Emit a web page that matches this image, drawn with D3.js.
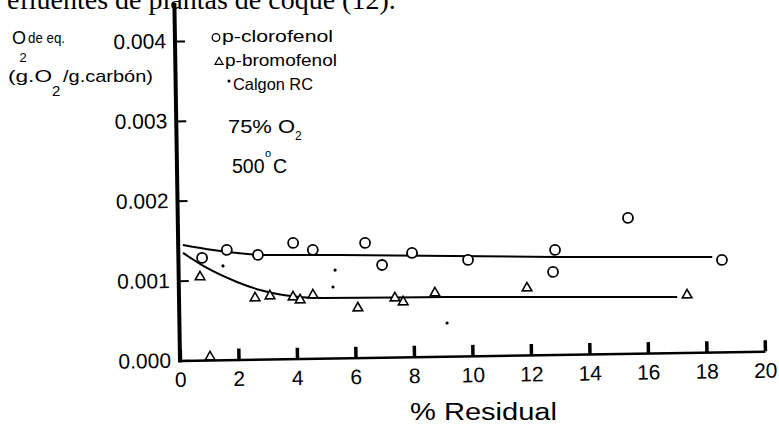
<!DOCTYPE html>
<html>
<head>
<meta charset="utf-8">
<script src="https://cdn.jsdelivr.net/npm/d3@7"></script>
<style>
  html, body { margin: 0; padding: 0; background: #fff; }
  svg { display: block; }
  text { font-family: "Liberation Sans", Arial, sans-serif; fill: #000; }
</style>
</head>
<body>
<svg id="chart" width="779" height="427"></svg>
<script>
// ---------- data ----------
const xTicks = [0, 2, 4, 6, 8, 10, 12, 14, 16, 18, 20];
const yTicks = [0, 0.001, 0.002, 0.003, 0.004];
const yTickLabels = ["0.000", "0.001", "0.002", "0.003", "0.004"];

// p-clorofenol (circles)
const clorofenolX = [0.81, 1.66, 2.72, 3.93, 4.60, 6.39, 6.96, 7.99, 9.90, 12.88, 12.80, 15.39, 18.58];
const clorofenolY = [0.00128, 0.001375, 0.001306, 0.001449, 0.001358, 0.001435, 0.001156, 0.001301, 0.001202, 0.00131, 0.001035, 0.001697, 0.001152];

// p-bromofenol (triangles)
const bromofenolX = [0.73, 1.03, 2.60, 3.11, 3.90, 4.14, 4.58, 6.11, 7.38, 7.66, 8.75, 11.90, 17.37];
const bromofenolY = [0.001042, 0.000038, 0.000768, 0.00079, 0.000773, 0.000734, 0.000794, 0.000622, 0.00074, 0.000689, 0.000795, 0.000839, 0.00072];

// Calgon RC (dots)
const calgonX = [1.52, 5.35, 5.27, 9.15];
const calgonY = [0.001175, 0.001102, 0.00089, 0.000417];

// fitted curves
const fitClorofenolX = [0.16, 1.19, 2.90, 5.53, 12.88, 18.25];
const fitClorofenolY = [0.001446, 0.001377, 0.001305, 0.00129, 0.001222, 0.001192];
const fitBromofenolX = [0.16, 0.97, 1.99, 2.77, 3.56, 4.92, 9.20, 17.03];
const fitBromofenolY = [0.001346, 0.001153, 0.000972, 0.000867, 0.0008, 0.000755, 0.000743, 0.000698];

// ---------- drawing ----------
const svg = d3.select("#chart");
svg.append("rect").attr("width", 779).attr("height", 427).attr("fill", "#fff");

const x = d3.scaleLinear().domain([0, 20]).range([180, 765]);
const y = d3.scaleLinear().domain([0, 0.004]).range([360.5, 41]);

// the scanned figure is slightly rotated
const g = svg.append("g").attr("transform", `rotate(-0.9, ${x(0)}, ${y(0)})`);

// y axis
const yAxis = d3.axisLeft(y)
  .tickValues(yTicks)
  .tickFormat((d, i) => yTickLabels[i])
  .tickSizeInner(-10)
  .tickSizeOuter(0)
  .tickPadding(9);
const yG = g.append("g").attr("transform", `translate(${x(0)},0)`).call(yAxis);
yG.select(".domain").remove();
yG.selectAll(".tick line").attr("stroke", "#000").attr("stroke-width", 2);
yG.selectAll(".tick text").style("font-size", "21px").style("font-family", "'Liberation Sans', Arial, sans-serif").attr("fill", "#000");
g.append("line")
  .attr("x1", x(0)).attr("x2", x(0))
  .attr("y1", y(0) + 2).attr("y2", 3)
  .attr("stroke", "#000").attr("stroke-width", 4);

// x axis
const xAxis = d3.axisBottom(x)
  .tickValues(xTicks)
  .tickFormat(d3.format("d"))
  .tickSizeInner(-11)
  .tickSizeOuter(0)
  .tickPadding(11.5);
const xG = g.append("g").attr("transform", `translate(0,${y(0)})`).call(xAxis);
xG.select(".domain").attr("stroke", "#000").attr("stroke-width", 2.5);
xG.selectAll(".tick line").attr("stroke", "#000").attr("stroke-width", 3.5);
xG.selectAll(".tick text").style("font-size", "21px").style("font-family", "'Liberation Sans', Arial, sans-serif").attr("fill", "#000");

// fitted lines
const line = d3.line().x(d => x(d[0])).y(d => y(d[1])).curve(d3.curveMonotoneX);
g.append("path")
  .datum(fitClorofenolX.map((v, i) => [v, fitClorofenolY[i]]))
  .attr("d", line).attr("fill", "none").attr("stroke", "#000").attr("stroke-width", 2);
g.append("path")
  .datum(fitBromofenolX.map((v, i) => [v, fitBromofenolY[i]]))
  .attr("d", line).attr("fill", "none").attr("stroke", "#000").attr("stroke-width", 2);

// markers
g.selectAll("circle.cloro")
  .data(clorofenolX.map((v, i) => [v, clorofenolY[i]]))
  .join("circle").attr("class", "cloro")
  .attr("cx", d => x(d[0])).attr("cy", d => y(d[1])).attr("r", 5)
  .attr("fill", "#fff").attr("stroke", "#000").attr("stroke-width", 1.8);

const tri = d3.symbol().type(d3.symbolTriangle).size(40);
g.selectAll("path.bromo")
  .data(bromofenolX.map((v, i) => [v, bromofenolY[i]]))
  .join("path").attr("class", "bromo")
  .attr("d", tri)
  .attr("transform", d => `translate(${x(d[0])},${y(d[1])})`)
  .attr("fill", "#fff").attr("stroke", "#000").attr("stroke-width", 1.6);

g.selectAll("circle.calgon")
  .data(calgonX.map((v, i) => [v, calgonY[i]]))
  .join("circle").attr("class", "calgon")
  .attr("cx", d => x(d[0])).attr("cy", d => y(d[1])).attr("r", 1.6)
  .attr("fill", "#000");

// ---------- texts ----------
// header (cut at top of the scan)
svg.append("text").attr("x", 7).attr("y", 9)
  .style("font-family", "'Liberation Serif', 'Times New Roman', serif")
  .style("font-size", "28px")
  .text("efluentes de plantas de coque (12).");

// y label
svg.append("text").attr("x", 12).attr("y", 44).style("font-size", "18px").text("O");
svg.append("text").attr("x", 19.5).attr("y", 62).style("font-size", "13px").text("2");
svg.append("text").attr("x", 28).attr("y", 42.5).style("font-size", "15px")
  .attr("textLength", 37).attr("lengthAdjust", "spacingAndGlyphs").text("de eq.");
svg.append("text").attr("x", 8).attr("y", 82).style("font-size", "17px")
  .attr("textLength", 44).attr("lengthAdjust", "spacingAndGlyphs").text("(g.O");
svg.append("text").attr("x", 52).attr("y", 96).style("font-size", "15px").text("2");
svg.append("text").attr("x", 63).attr("y", 82).style("font-size", "17px")
  .attr("textLength", 90).attr("lengthAdjust", "spacingAndGlyphs").text("/g.carbón)");

// legend
svg.append("circle").attr("cx", 216).attr("cy", 37.5).attr("r", 3.8)
  .attr("fill", "none").attr("stroke", "#000").attr("stroke-width", 1.3);
svg.append("text").attr("x", 222).attr("y", 41.5).style("font-size", "16.5px")
  .attr("textLength", 111).attr("lengthAdjust", "spacingAndGlyphs").text("p-clorofenol");
svg.append("path").attr("d", d3.symbol().type(d3.symbolTriangle).size(28))
  .attr("transform", "translate(219,62)")
  .attr("fill", "none").attr("stroke", "#000").attr("stroke-width", 1.2);
svg.append("text").attr("x", 225).attr("y", 65.5).style("font-size", "16.5px")
  .attr("textLength", 112).attr("lengthAdjust", "spacingAndGlyphs").text("p-bromofenol");
svg.append("circle").attr("cx", 229).attr("cy", 81).attr("r", 1.5).attr("fill", "#000");
svg.append("text").attr("x", 233).attr("y", 90).style("font-size", "16.5px")
  .attr("textLength", 80).attr("lengthAdjust", "spacingAndGlyphs").text("Calgon RC");

// conditions
svg.append("text").attr("x", 228).attr("y", 133).style("font-size", "18.5px")
  .attr("textLength", 67).attr("lengthAdjust", "spacingAndGlyphs").text("75% O");
svg.append("text").attr("x", 295).attr("y", 140).style("font-size", "12px").text("2");
svg.append("text").attr("x", 232).attr("y", 173).style("font-size", "19.5px").text("500");
svg.append("text").attr("x", 265).attr("y", 157).style("font-size", "11px").text("o");
svg.append("text").attr("x", 273).attr("y", 173).style("font-size", "19.5px").text("C");

// x axis title
svg.append("text").attr("x", 410).attr("y", 420).style("font-size", "23px")
  .attr("textLength", 147).attr("lengthAdjust", "spacingAndGlyphs").text("% Residual");
</script>
</body>
</html>
